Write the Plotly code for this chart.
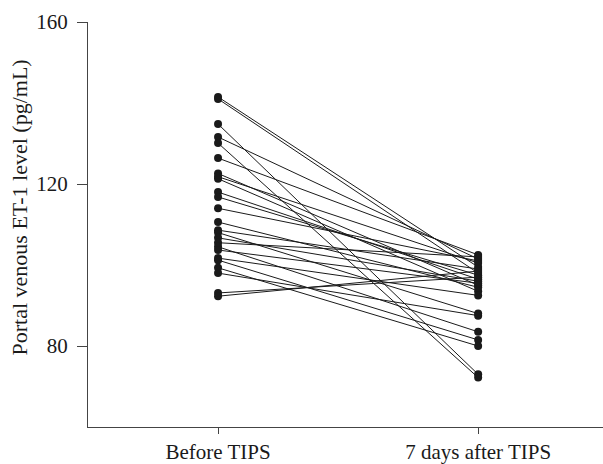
import plotly.graph_objects as go

categories = ["Before TIPS", "7 days after TIPS"]
before = [141.5, 141.0, 134.8, 131.6, 130.1, 126.4, 122.6, 121.8, 121.3, 118.0,
          116.8, 114.0, 110.6, 108.6, 108.0, 106.7, 105.5, 104.5, 103.7, 101.7,
          101.2, 99.3, 98.0, 93.1, 92.3]
after = [99.5, 98.0, 73.0, 101.5, 72.2, 102.5, 95.0, 100.5, 93.5, 96.5,
         97.5, 101.0, 94.5, 99.0, 88.0, 96.0, 102.0, 83.5, 95.5, 92.5,
         81.5, 80.0, 87.5, 97.0, 98.5]
y_ticks = [80, 120, 160]
y_title = "Portal venous ET-1 level (pg/mL)"

xs, ys = [], []
for b, a in zip(before, after):
    xs += [0, 1, None]
    ys += [b, a, None]

fig = go.Figure()
fig.add_trace(go.Scatter(
    x=xs, y=ys, mode="lines+markers",
    line=dict(color="#1a1a1a", width=1),
    marker=dict(color="#1a1a1a", size=8),
    connectgaps=False, showlegend=False, hoverinfo="skip"))

font = "Liberation Serif, Times New Roman, serif"
fig.update_layout(
    width=603, height=464,
    margin=dict(l=88, r=0, t=22, b=37),
    paper_bgcolor="white", plot_bgcolor="white",
    font=dict(family=font, size=21, color="#1a1a1a"),
    xaxis=dict(range=[-0.5, 1.48], tickvals=[0, 1], ticktext=categories,
               showgrid=False, zeroline=False, showline=True, linecolor="#444",
               linewidth=1, ticks="outside", ticklen=6, tickcolor="#444",
               tickfont=dict(size=21), automargin=False, ticklabelstandoff=0),
    yaxis=dict(range=[60, 160], tickvals=y_ticks, showgrid=False, zeroline=False,
               showline=True, linecolor="#444", linewidth=1, ticks="outside",
               ticklen=10, tickcolor="#444", tickfont=dict(size=21),
               automargin=False, ticklabelstandoff=5),
    annotations=[dict(text=y_title, xref="paper", yref="paper",
                      x=(19 - 88) / 515, y=0.542,
                      xanchor="center", yanchor="middle", textangle=-90,
                      showarrow=False, font=dict(size=22))],
)
fig.write_html("out.html", config={"displayModeBar": False},
               post_script="document.body.style.margin='0';")
